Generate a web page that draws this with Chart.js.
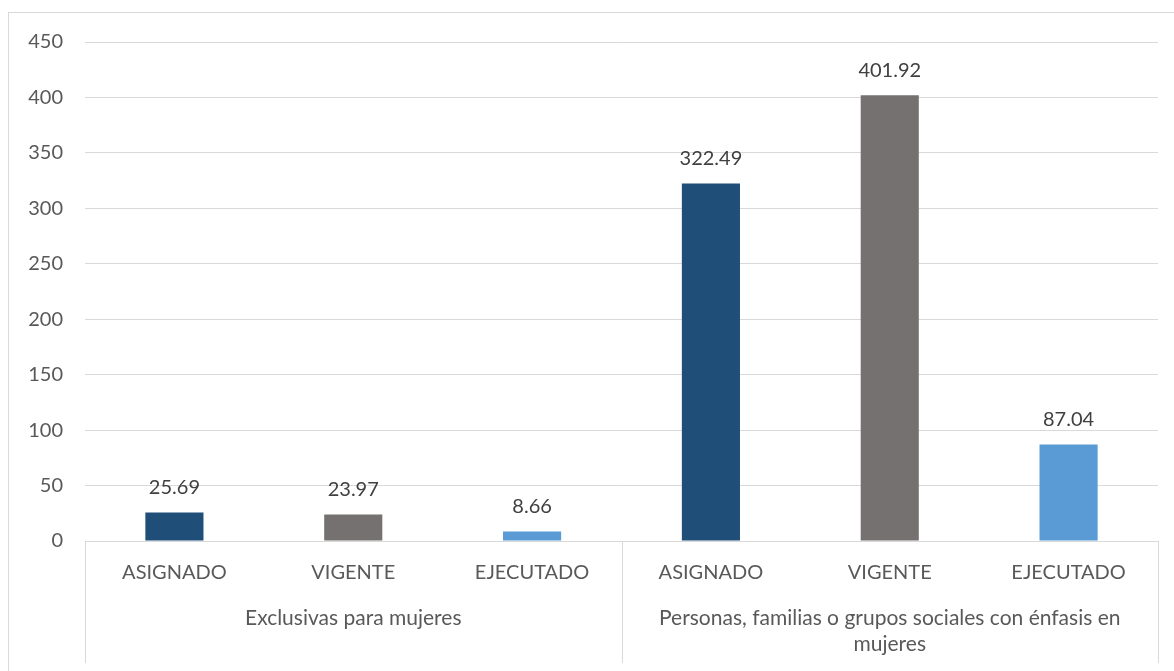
<!DOCTYPE html>
<html>
<head>
<meta charset="utf-8">
<script src="https://cdn.jsdelivr.net/npm/chart.js@4"></script>
<style>
  html, body { margin: 0; padding: 0; background: #fff; overflow: hidden; }
  #frame { position: absolute; left: 8px; top: 12px; width: 1200px; height: 700px; border: 1px solid #d9d9d9; box-sizing: border-box; }
  #wrap { position: absolute; left: 0; top: 0; width: 1174px; height: 671px; }
</style>
</head>
<body>
<div id="frame"></div>
<div id="wrap"><canvas id="budgetchart"></canvas></div>
<script>
const categories = ["ASIGNADO", "VIGENTE", "EJECUTADO", "ASIGNADO", "VIGENTE", "EJECUTADO"];
const groups = ["Exclusivas para mujeres", ["Personas, familias o grupos sociales con énfasis en", "mujeres"]];
const groupSize = 3;
const values = [25.69, 23.97, 8.66, 322.49, 401.92, 87.04];
const barColors = ["#1f4e79", "#767171", "#5b9bd5", "#1f4e79", "#767171", "#5b9bd5"];
const yTicks = { min: 0, max: 450, step: 50 };

const fontFamily = "Lato, 'Open Sans', sans-serif";
const textColor = "#595959";

// value labels above each bar
const barLabels = {
  id: "barLabels",
  afterDatasetsDraw(chart) {
    const ctx = chart.ctx;
    const meta = chart.getDatasetMeta(0);
    ctx.save();
    ctx.font = "20px " + fontFamily;
    ctx.fillStyle = "#404040";
    ctx.textAlign = "center";
    ctx.textBaseline = "bottom";
    meta.data.forEach((bar, i) => {
      ctx.fillText(values[i].toFixed(2), bar.x, bar.y - 15);
    });
    ctx.restore();
  }
};

// group separators on the category axis
const groupLines = {
  id: "groupLines",
  afterDraw(chart) {
    const x = chart.scales.x;
    const ctx = chart.ctx;
    const half = (x.getPixelForValue(1) - x.getPixelForValue(0)) / 2;
    ctx.save();
    ctx.strokeStyle = "#d9d9d9";
    ctx.lineWidth = 1;
    for (let g = 0; g <= groups.length; g++) {
      const px = Math.round(x.getPixelForValue(g * groupSize) - half) + 0.5;
      ctx.beginPath();
      ctx.moveTo(px, x.top);
      ctx.lineTo(px, chart.height - 8);
      ctx.stroke();
    }
    ctx.restore();
  }
};

new Chart(document.getElementById("budgetchart"), {
  type: "bar",
  data: {
    labels: categories,
    datasets: [
      {
        data: values,
        backgroundColor: barColors,
        categoryPercentage: 1,
        barPercentage: 0.325,
      },
    ],
  },
  plugins: [barLabels, groupLines],
  options: {
    responsive: true,
    maintainAspectRatio: false,
    animation: false,
    layout: { padding: { top: 42, right: 16, bottom: 0, left: 0 } },
    plugins: { legend: { display: false }, tooltip: { enabled: false } },
    scales: {
      x: {
        grid: { display: false },
        border: { color: "#d9d9d9" },
        ticks: { color: textColor, font: { family: fontFamily, size: 20 }, padding: 12, maxRotation: 0 },
        afterFit: (s) => { s.height = 55; },
      },
      x2: {
        type: "category",
        labels: groups,
        position: "bottom",
        grid: { display: false },
        border: { display: false },
        ticks: { color: textColor, font: { family: fontFamily, size: 21 }, padding: 2, maxRotation: 0, lineHeight: 1.5 },
        afterFit: (s) => { s.height = 75; },
      },
      y: {
        min: yTicks.min,
        max: yTicks.max,
        grid: { color: "#d9d9d9", drawTicks: false },
        border: { display: false },
        ticks: { stepSize: yTicks.step, color: textColor, font: { family: fontFamily, size: 20 }, padding: 22 },
        afterFit: (s) => { s.width = 85; },
      },
    },
  },
});
</script>
</body>
</html>
